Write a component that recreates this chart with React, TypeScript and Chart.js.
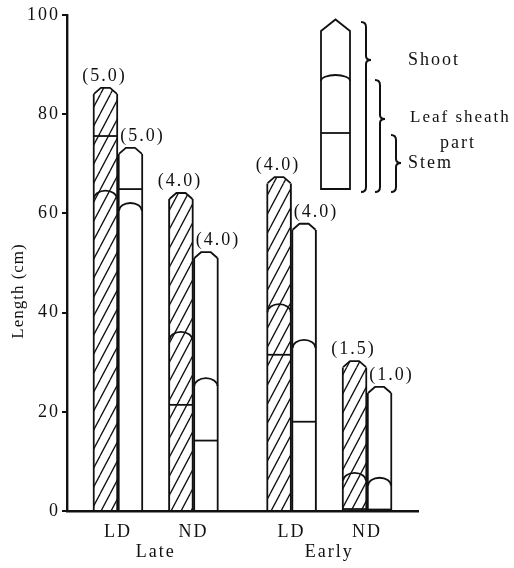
import React, { useEffect, useRef } from 'react';
import { Chart, registerables } from 'chart.js';

Chart.register(...registerables);

// ---- data ----
const groups = ['Late', 'Early'];
const treatments = ['LD', 'ND', 'LD', 'ND'];
const groupOf = [0, 0, 1, 1];
const slots = [1, 2, 3.3, 4.3]; // abscissa of each treatment pair

const shootHatched = [84.1, 62.9, 66.1, 29.0];
const shootWhite = [72.0, 51.0, 56.7, 23.8];
const sheathHatched = [64.6, 36.1, 41.7, 7.7];
const sheathWhite = [62.1, 26.8, 34.5, 6.7];
const stemHatched = [75.6, 21.4, 31.5, 0.4];
const stemWhite = [64.9, 14.2, 18.0, 0.3];
const notesHatched = ['(5.0)', '(4.0)', '(4.0)', '(1.5)'];
const notesWhite = ['(5.0)', '(4.0)', '(4.0)', '(1.0)'];
const yTicks = [0, 20, 40, 60, 80, 100];

const groupMid = groups.map((_, g) => {
  const xs = slots.filter((_, i) => groupOf[i] === g);
  return xs.reduce((a, b) => a + b, 0) / xs.length;
});

const FONT = "'Liberation Serif', 'Times New Roman', serif";
const INK = '#111';

function makeHatch(ctx: CanvasRenderingContext2D) {
  const c = document.createElement('canvas');
  c.width = 10;
  c.height = 19;
  const g = c.getContext('2d')!;
  g.fillStyle = '#fff';
  g.fillRect(0, 0, 10, 19);
  g.strokeStyle = INK;
  g.lineWidth = 1.3;
  for (const dx of [-10, 0, 10]) {
    g.beginPath();
    g.moveTo(dx, 19);
    g.lineTo(dx + 10, 0);
    g.stroke();
  }
  return ctx.createPattern(c, 'repeat')!;
}

function brace(ctx: CanvasRenderingContext2D, x: number, top: number, bottom: number, mid: number) {
  ctx.beginPath();
  ctx.moveTo(x - 5, top);
  ctx.quadraticCurveTo(x, top, x, top + 5);
  ctx.lineTo(x, mid - 4);
  ctx.quadraticCurveTo(x, mid, x + 5, mid);
  ctx.quadraticCurveTo(x, mid, x, mid + 4);
  ctx.lineTo(x, bottom - 5);
  ctx.quadraticCurveTo(x, bottom, x - 5, bottom);
  ctx.stroke();
}

function text(ctx: CanvasRenderingContext2D, s: string, x: number, y: number, align: CanvasTextAlign, size = 18, spacing = 2) {
  ctx.save();
  ctx.font = `${size}px ${FONT}`;
  (ctx as any).letterSpacing = `${spacing}px`;
  ctx.fillStyle = INK;
  ctx.textAlign = align;
  ctx.textBaseline = 'middle';
  ctx.fillText(s, x, y);
  ctx.restore();
}

export default function App() {
  const ref = useRef<HTMLCanvasElement>(null);

  useEffect(() => {
    document.body.style.margin = '0';
    const canvas = ref.current!;
    const ctx0 = canvas.getContext('2d')!;
    const hatch = makeHatch(ctx0);

    const spacingPlugin = {
      id: 'spacing',
      beforeLayout(chart: any) { chart.ctx.letterSpacing = '2px'; },
      beforeDraw(chart: any) { chart.ctx.letterSpacing = '2px'; },
    };

    const deco = {
      id: 'deco',
      afterDatasetsDraw(chart: any) {
        const ctx: CanvasRenderingContext2D = chart.ctx;
        const ys = chart.scales.y;
        const sets = [
          { sheath: sheathHatched, stem: stemHatched, notes: notesHatched, fill: hatch as any, dx: -1 },
          { sheath: sheathWhite, stem: stemWhite, notes: notesWhite, fill: '#fff', dx: 12 },
        ];
        ctx.save();
        ctx.strokeStyle = INK;
        ctx.lineWidth = 1.8;
        ctx.lineJoin = 'round';
        sets.forEach((set, d) => {
          const meta = chart.getDatasetMeta(d);
          meta.data.forEach((el: any, i: number) => {
            const { x, y, width } = el.getProps(['x', 'y', 'width'], true);
            const l = x - width / 2 + 1;
            const r = x + width / 2 - 1;
            const w = r - l;
            // pointed top of the shoot
            ctx.beginPath();
            ctx.moveTo(l, y);
            ctx.lineTo(l + w * 0.3, y - 6);
            ctx.lineTo(r - w * 0.3, y - 6);
            ctx.lineTo(r, y);
            ctx.fillStyle = set.fill;
            ctx.fill();
            ctx.stroke();
            // leaf sheath arc
            const py = ys.getPixelForValue(set.sheath[i]);
            ctx.beginPath();
            ctx.ellipse(x, py + 8, w / 2, 8, 0, Math.PI, 2 * Math.PI);
            ctx.stroke();
            // stem line
            const sy = ys.getPixelForValue(set.stem[i]);
            ctx.beginPath();
            ctx.moveTo(l, sy);
            ctx.lineTo(r, sy);
            ctx.stroke();
            // note above
            text(ctx, set.notes[i], x + set.dx, y - 6 - 12, 'center');
          });
        });
        ctx.restore();
      },
      afterDraw(chart: any) {
        const ctx: CanvasRenderingContext2D = chart.ctx;
        // y title
        ctx.save();
        ctx.translate(19, 291);
        ctx.rotate(-Math.PI / 2);
        text(ctx, 'Length (cm)', 0, 0, 'center', 17, 1);
        ctx.restore();

        // legend schematic
        ctx.save();
        ctx.strokeStyle = INK;
        ctx.lineWidth = 1.8;
        ctx.lineJoin = 'miter';
        const L = 321, R = 350, apex = 19.5, sh = 31, arcPeak = 75, stemY = 133, bot = 189;
        ctx.beginPath();
        ctx.moveTo(L, bot);
        ctx.lineTo(L, sh);
        ctx.lineTo((L + R) / 2, apex);
        ctx.lineTo(R, sh);
        ctx.lineTo(R, bot);
        ctx.closePath();
        ctx.stroke();
        ctx.beginPath();
        ctx.ellipse((L + R) / 2, arcPeak + 6, (R - L) / 2, 6, 0, Math.PI, 2 * Math.PI);
        ctx.stroke();
        ctx.beginPath();
        ctx.moveTo(L, stemY);
        ctx.lineTo(R, stemY);
        ctx.stroke();
        ctx.lineWidth = 2;
        brace(ctx, 366, 22, 192, 60);
        brace(ctx, 380, 80, 192, 119);
        brace(ctx, 396, 135, 192, 163);
        ctx.restore();
        text(ctx, 'Shoot', 408, 60, 'left');
        text(ctx, 'Leaf sheath', 410, 118, 'left', 17);
        text(ctx, 'part', 458, 143, 'center');
        text(ctx, 'Stem', 408, 163, 'left');
      },
    };

    const tickFont = { family: FONT, size: 18 };
    const xMin = 0.325;
    const xMax = 4.975;

    const chart = new Chart(canvas, {
      type: 'bar',
      data: {
        datasets: [
          {
            label: 'hatched',
            data: slots.map((x, i) => ({ x, y: shootHatched[i] })),
            backgroundColor: hatch as any,
            borderColor: INK,
            borderWidth: { left: 2, right: 2, top: 0, bottom: 0 } as any,
            borderSkipped: false,
            barThickness: 25,
          },
          {
            label: 'plain',
            data: slots.map((x, i) => ({ x, y: shootWhite[i] })),
            backgroundColor: '#fff',
            borderColor: INK,
            borderWidth: { left: 2, right: 2, top: 0, bottom: 0 } as any,
            borderSkipped: false,
            barThickness: 25,
          },
        ],
      },
      options: {
        responsive: false,
        animation: false,
        events: [],
        layout: { padding: { left: 0, top: 15, right: 96, bottom: 0 } },
        plugins: { legend: { display: false }, tooltip: { enabled: false } },
        scales: {
          x: {
            type: 'linear',
            position: 'bottom',
            offset: false,
            min: xMin,
            max: xMax,
            grid: { display: false, drawTicks: false, offset: false },
            border: { display: true, color: INK, width: 2.4, z: 1 } as any,
            afterBuildTicks: (s: any) => { s.ticks = slots.map((v) => ({ value: v })); },
            afterFit: (s: any) => { s.height = 30; },
            ticks: {
              autoSkip: false,
              maxRotation: 0,
              padding: 10,
              color: INK,
              font: tickFont,
              callback: (v: any) => {
                const i = slots.indexOf(v);
                return i >= 0 ? treatments[i] : '';
              },
            },
          },
          x2: {
            type: 'linear',
            position: 'bottom',
            offset: false,
            min: xMin,
            max: xMax,
            grid: { display: false, drawTicks: false, offset: false },
            border: { display: false },
            afterBuildTicks: (s: any) => { s.ticks = groupMid.map((v) => ({ value: v })); },
            afterFit: (s: any) => { s.height = 27; },
            ticks: {
              autoSkip: false,
              maxRotation: 0,
              padding: 0,
              color: INK,
              font: tickFont,
              callback: (v: any) => {
                const i = groupMid.indexOf(v);
                return i >= 0 ? groups[i] : '';
              },
            },
          },
          y: {
            type: 'linear',
            min: 0,
            max: 100,
            grid: { display: true, drawOnChartArea: false, drawTicks: true, tickLength: 5, color: INK, lineWidth: 2 },
            border: { display: true, color: INK, width: 2.4, z: 1 } as any,
            afterBuildTicks: (s: any) => { s.ticks = yTicks.map((v) => ({ value: v })); },
            afterFit: (s: any) => { s.width = 67; },
            ticks: { padding: 2, color: INK, font: tickFont },
          },
        },
      } as any,
      plugins: [spacingPlugin, deco],
    });

    return () => chart.destroy();
  }, []);

  return (
    <div style={{ width: 514, height: 568, background: '#fff' }}>
      <canvas ref={ref} width={514} height={568} style={{ display: 'block' }} />
    </div>
  );
}
